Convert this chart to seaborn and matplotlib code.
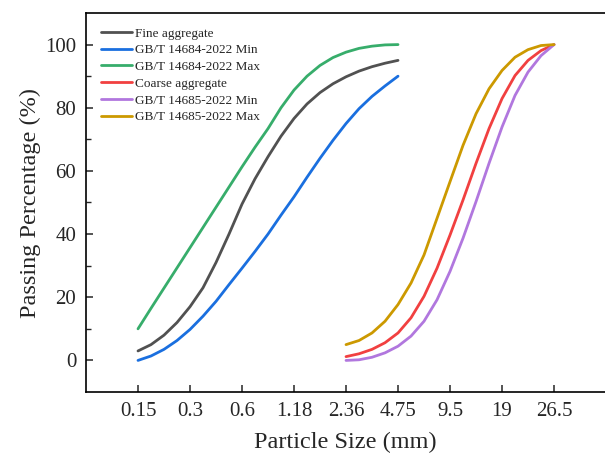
import matplotlib
matplotlib.use("Agg")
import matplotlib.pyplot as plt
from matplotlib.ticker import FixedLocator
import seaborn as sns
import numpy as np
import pandas as pd

# sieve sizes (mm), plotted at evenly spaced positions like the original
sieve_labels = ["0.15", "0.3", "0.6", "1.18", "2.36", "4.75", "9.5", "19", "26.5"]

# curves every quarter of a sieve step
fine_pos = np.arange(0, 5.001, 0.25)
fine_agg = [3, 5, 8, 12, 17, 23, 31, 40, 49.5, 57.5, 64.5, 71, 76.6, 81.2, 84.8,
            87.6, 89.8, 91.6, 93, 94.1, 95]
fine_min = [0, 1.4, 3.5, 6.3, 9.8, 14, 18.7, 24, 29.2, 34.5, 40, 46, 51.8, 58, 64,
            69.7, 75, 79.7, 83.6, 86.9, 90]
fine_max = [10, 16.5, 22.9, 29.3, 35.7, 42.1, 48.5, 54.9, 61.3, 67.5, 73.4, 80,
            85.6, 90, 93.4, 95.9, 97.6, 98.8, 99.5, 99.9, 100]

coarse_pos = np.arange(4, 8.001, 0.25)
coarse_agg = [1.2, 2.1, 3.5, 5.6, 8.7, 13.5, 20.3, 29.2, 39.7, 50.8, 62.4, 73.4,
              82.9, 90.2, 95, 98.1, 100]
coarse_min = [0, 0.2, 1, 2.4, 4.5, 7.7, 12.4, 19.2, 28.2, 38.7, 50.3, 62.4, 73.9,
              83.9, 91.3, 96.5, 100]
coarse_max = [5, 6.3, 8.7, 12.4, 17.7, 24.5, 33.4, 45, 56.6, 68.1, 78.1, 86, 91.8,
              96, 98.4, 99.7, 100]

series_names = ["Fine aggregate", "GB/T 14684-2022 Min", "GB/T 14684-2022 Max",
                "Coarse aggregate", "GB/T 14685-2022 Min", "GB/T 14685-2022 Max"]
colors = ["#515151", "#1A6FDF", "#37AD6B", "#F14040", "#B177DE", "#CC9900"]

frames = []
for name, pos, vals in zip(series_names,
                           [fine_pos, fine_pos, fine_pos, coarse_pos, coarse_pos, coarse_pos],
                           [fine_agg, fine_min, fine_max, coarse_agg, coarse_min, coarse_max]):
    frames.append(pd.DataFrame({"pos": pos, "passing": vals, "series": name}))
df = pd.concat(frames, ignore_index=True)

sns.set_style("ticks")
plt.rcParams["font.family"] = ["Liberation Serif", "DejaVu Serif"]
plt.rcParams["xtick.direction"] = "in"
plt.rcParams["ytick.direction"] = "in"

fig = plt.figure(figsize=(6.05, 4.61), dpi=100)
ax = fig.add_axes([86 / 605, 1 - 392 / 461, 519 / 605, 379 / 461])

sns.lineplot(data=df, x="pos", y="passing", hue="series", hue_order=series_names,
             palette=dict(zip(series_names, colors)), linewidth=2.0,
             solid_joinstyle="round", solid_capstyle="round", ax=ax)

ax.set_xlim(-1, 8.98)
ax.set_ylim(-10, 110)
ax.set_xticks(range(len(sieve_labels)))
ax.set_xticklabels(sieve_labels)
ax.set_yticks([0, 20, 40, 60, 80, 100])
ax.yaxis.set_minor_locator(FixedLocator([10, 30, 50, 70, 90]))
ax.tick_params(axis="both", which="major", labelsize=15, length=5, width=1.1, pad=7)
ax.tick_params(axis="y", which="minor", length=3.5, width=1.0)

ax.set_xlabel("Particle Size (mm)", fontsize=17.5, labelpad=8)
ax.set_ylabel("Passing Percentage (%)", fontsize=17.5, labelpad=3)

for side in ["left", "bottom", "top"]:
    ax.spines[side].set_linewidth(1.2)
    ax.spines[side].set_color("black")
ax.spines["right"].set_visible(False)

ax.legend(loc="upper left", bbox_to_anchor=(0.028, 0.962), frameon=False,
          fontsize=9.5, handlelength=2.35, handletextpad=0.25, labelspacing=0.34,
          borderpad=0, borderaxespad=0)

fig.savefig("out.png", dpi=100)
